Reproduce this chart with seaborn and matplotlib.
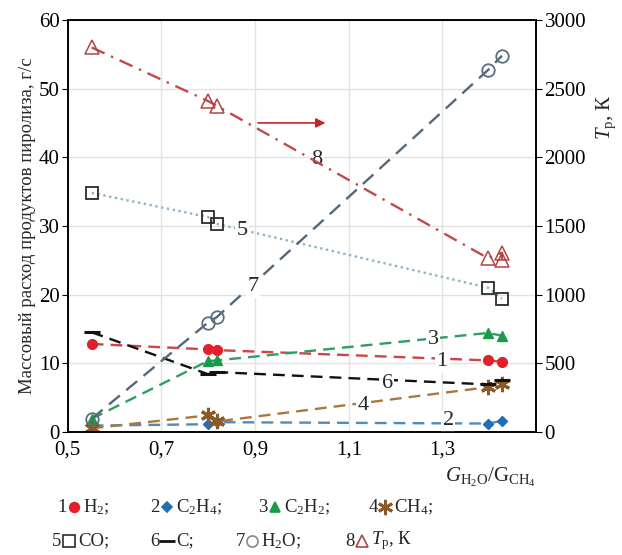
import matplotlib
matplotlib.use("Agg")
import matplotlib.pyplot as plt
import seaborn as sns
from matplotlib.lines import Line2D

# ratio G_H2O / G_CH4
ratio = [0.551, 0.799, 0.818, 1.397, 1.427]
h2 = [12.8, 12.0, 11.9, 10.4, 10.2]
c2h4 = [0.9, 1.1, 1.4, 1.2, 1.6]
c2h2 = [1.9, 10.3, 10.4, 14.4, 14.0]
ch4 = [0.5, 2.4, 1.5, 6.5, 7.0]
co = [34.8, 31.3, 30.3, 21.0, 19.4]
carbon = [14.5, 8.4, 8.7, 6.9, 7.6]
h2o = [1.9, 15.9, 16.7, 52.7, 54.8]
tp_ratio = [0.551, 0.799, 0.818, 1.397, 1.427, 1.427]
tp = [2800, 2410, 2375, 1265, 1305, 1250]

x_ticks = [0.5, 0.7, 0.9, 1.1, 1.3]
x_labels = ["0,5", "0,7", "0,9", "1,1", "1,3"]
y_ticks = [0, 10, 20, 30, 40, 50, 60]
t_ticks = [0, 500, 1000, 1500, 2000, 2500, 3000]

sns.set_style("whitegrid")
plt.rcParams["font.family"] = ["Liberation Serif", "DejaVu Serif"]
plt.rcParams["mathtext.fontset"] = "custom"
plt.rcParams["mathtext.rm"] = "Liberation Serif"
plt.rcParams["mathtext.it"] = "Liberation Serif:italic"

fig = plt.figure(figsize=(6.22, 5.55), dpi=100)
ax = fig.add_axes([0.109, 0.222, 0.753, 0.742])
ax2 = ax.twinx()

# (values, line colour, dashes, marker, marker face, marker edge, size)
series = [
    (h2, "#cf4545", (5, 3), "o", "#e3202a", "#e3202a", 7),
    (c2h4, "#4f8bbd", (5, 3), "D", "#1f6fb4", "#1f6fb4", 5.5),
    (c2h2, "#2f9e62", (5, 3), "^", "#1a9a4a", "#1a9a4a", 7),
    (ch4, "#a9783c", (5, 3), (6, 2, 0), "#8b5a2b", "#8b5a2b", 11),
    (co, "#8fb3c2", (1, 1.5), "s", "none", "#2b2b2b", 9),
    (carbon, "#111111", (5, 3), "_", "#111111", "#111111", 12),
    (h2o, "#55687a", (6, 3.5), "o", "none", "#5a6e80", 9),
]
for vals, lc, dsh, mk, mfc, mec, ms in series:
    sns.lineplot(x=ratio, y=vals, ax=ax, estimator=None, sort=False,
                 color=lc, lw=1.7, dashes=dsh, marker=mk, mfc=mfc, mec=mec,
                 ms=ms, mew=1.3 if mfc == "none" else 2.2 if mk in ("_", (6, 2, 0)) else 1)

sns.lineplot(x=tp_ratio, y=tp, ax=ax2, estimator=None, sort=False,
             color="#c44848", lw=1.7, dashes=(6, 3, 1, 3), marker="^",
             mfc="none", mec="#b04545", ms=10, mew=1.1)

ax.set_xlim(0.5, 1.5)
ax.set_ylim(0, 60)
ax2.set_ylim(0, 3000)
ax.set_xticks(x_ticks)
ax.set_xticklabels(x_labels)
ax.set_yticks(y_ticks)
ax2.set_yticks(t_ticks)
ax2.grid(False)
ax.grid(True, color="#e2e2e2", lw=1)
for a in (ax, ax2):
    for sp in a.spines.values():
        sp.set_color("black")
        sp.set_linewidth(1.2)
    a.tick_params(labelsize=15, direction="out", length=4, width=0.8, colors="black", pad=2)

ax.set_ylabel("Массовый расход продуктов пиролиза, г/с", fontsize=13.5, labelpad=2)
ax2.set_ylabel(r"$T_{\mathrm{р}}$, К", fontsize=15, rotation=90)
ax2.yaxis.set_label_coords(1.125, 0.765)
ax.set_xlabel(r"$G_{\mathrm{H_2O}}/\mathrm{G}_{\mathrm{CH_4}}$", fontsize=15, loc="right", labelpad=5)

# curve numbers
curve_nums = ["1", "2", "3", "4", "5", "6", "7", "8"]
num_pos = [(1.299, 10.2), (1.312, 1.6), (1.280, 13.4), (1.130, 3.9),
           (0.872, 29.4), (1.182, 7.1), (0.895, 21.1), (1.032, 39.6)]
for n, (px, py) in zip(curve_nums, num_pos):
    ax.text(px, py, n, fontsize=16, ha="center", va="center", zorder=5,
            bbox=dict(facecolor="white", edgecolor="none", pad=1))
ax.annotate("", xy=(1.056, 45.0), xytext=(0.900, 45.0),
            arrowprops=dict(arrowstyle="-|>", color="#c0282d", lw=1.2, mutation_scale=14))

# legend below the plot
leg_labels = [r"$\mathrm{H_2}$;", r"$\mathrm{C_2H_4}$;", r"$\mathrm{C_2H_2}$;", r"$\mathrm{CH_4}$;",
              "CO;", "C;", r"$\mathrm{H_2O}$;", r"$T_{\mathrm{р}}$, К"]
leg_marks = [("o", "#e3202a", "#e3202a", 7), ("D", "#1f6fb4", "#1f6fb4", 5),
             ("^", "#1a9a4a", "#1a9a4a", 7), ((6, 2, 0), "#8b5a2b", "#8b5a2b", 11),
             ("s", "none", "#2b2b2b", 8), ("_", "#111111", "#111111", 11),
             ("o", "none", "#7a8c9a", 8), ("^", "none", "#b04545", 9)]
col_x = [[62, 155, 263, 373], [57, 155, 240, 350]]
row_y = [507, 541]
W, H = 622.0, 555.0
for i, (lab, (mk, mfc, mec, ms)) in enumerate(zip(leg_labels, leg_marks)):
    r, c = divmod(i, 4)
    x0 = col_x[r][c]
    y0 = 1 - row_y[r] / H
    fig.text(x0 / W, y0, curve_nums[i], fontsize=13.5, ha="center", va="center")
    fig.add_artist(Line2D([(x0 + 12) / W], [y0], transform=fig.transFigure, marker=mk,
                          mfc=mfc, mec=mec, ms=ms, mew=2 if mk in ("_", (6, 2, 0)) else 1.2, ls="none"))
    fig.text((x0 + 21) / W, y0, lab, fontsize=13.5, ha="left", va="center")

fig.savefig("out.png", dpi=100)
